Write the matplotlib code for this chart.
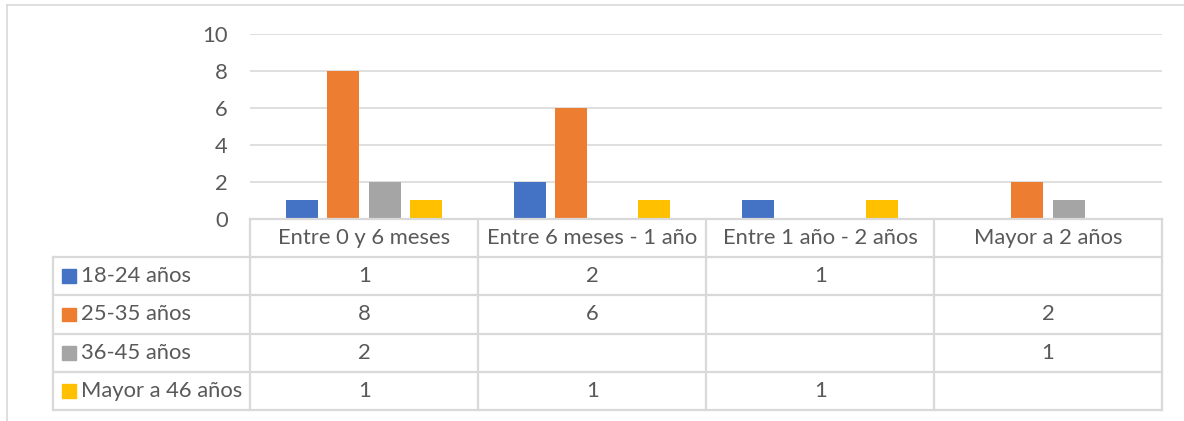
import matplotlib
matplotlib.use("Agg")
import matplotlib.pyplot as plt
from matplotlib.lines import Line2D
from matplotlib.patches import Rectangle
import numpy as np

categories = ["Entre 0 y 6 meses", "Entre 6 meses - 1 año", "Entre 1 año - 2 años", "Mayor a 2 años"]
series_names = ["18-24 años", "25-35 años", "36-45 años", "Mayor a 46 años"]
s1824 = [1, 2, 1, None]
s2535 = [8, 6, None, 2]
s3645 = [2, None, None, 1]
s46 = [1, 1, 1, None]
series = [s1824, s2535, s3645, s46]
colors = ["#4472C4", "#ED7D31", "#A5A5A5", "#FFC000"]
yticks = [0, 2, 4, 6, 8, 10]

plt.rcParams['font.family'] = ['Lato', 'DejaVu Sans']
W, H = 1184, 421
fig = plt.figure(figsize=(W / 100, H / 100), dpi=100)
txt = "#595959"
grid_c = "#D9D9D9"
fs = 15.8

def px(x0, y0, x1, y1):
    return [x0 / W, 1 - y1 / H, (x1 - x0) / W, (y1 - y0) / H]

# outer border
fig.add_artist(Line2D([7 / W, 1], [1 - 5 / H, 1 - 5 / H], color=grid_c, lw=1.2))
fig.add_artist(Line2D([7 / W, 7 / W], [0, 1 - 5 / H], color=grid_c, lw=1.2))

ax = fig.add_axes(px(250, 34, 1162, 219))
n = len(categories)
x = np.arange(n)
bw = 0.141
pitch = 0.181
for i, (vals, c) in enumerate(zip(series, colors)):
    offs = (i - 1.5) * pitch
    for j, v in enumerate(vals):
        if v is not None:
            ax.bar(x[j] + offs, v, width=bw, color=c, zorder=3)
ax.set_xlim(-0.5, n - 0.5)
ax.set_ylim(0, 10)
ax.set_yticks(yticks)
ax.set_yticklabels([str(t) for t in yticks], color=txt, fontsize=fs)
ax.tick_params(axis='y', length=0, pad=16)
ax.set_xticks([])
for sp in ax.spines.values():
    sp.set_visible(False)
ax.grid(axis='y', color=grid_c, lw=1.2, zorder=0)
ax.set_axisbelow(True)

# data table
label_w = (250 - 53) / 227.5
tax = fig.add_axes(px(53, 219, 1162, 410))
nrows = len(series_names) + 1
tax.set_xlim(-0.5 - label_w, n - 0.5)
tax.set_ylim(nrows, 0)
tax.axis('off')
lc = "#D9D9D9"
lw = 1.6
tax.plot([-0.5, n - 0.5], [0, 0], color=lc, lw=lw, clip_on=False)
for r in range(1, nrows + 1):
    tax.plot([-0.5 - label_w, n - 0.5], [r, r], color=lc, lw=lw, clip_on=False)
tax.plot([-0.5 - label_w] * 2, [1, nrows], color=lc, lw=lw, clip_on=False)
for k in range(n + 1):
    tax.plot([k - 0.5] * 2, [0, nrows], color=lc, lw=lw, clip_on=False)
for j, cat in enumerate(categories):
    tax.text(j, 0.5, cat, ha='center', va='center', color=txt, fontsize=fs)
sq = 14 / 227.5
for i, (name, vals, c) in enumerate(zip(series_names, series, colors)):
    yc = i + 1.5
    x0 = -0.5 - label_w + 9 / 227.5
    tax.add_patch(Rectangle((x0, yc - 0.18), sq, 0.36, color=c, clip_on=False))
    tax.text(x0 + sq + 5 / 227.5, yc, name, ha='left', va='center', color=txt, fontsize=fs)
    for j, v in enumerate(vals):
        if v is not None:
            tax.text(j, yc, str(v), ha='center', va='center', color=txt, fontsize=fs)

fig.savefig("out.png", dpi=100)
